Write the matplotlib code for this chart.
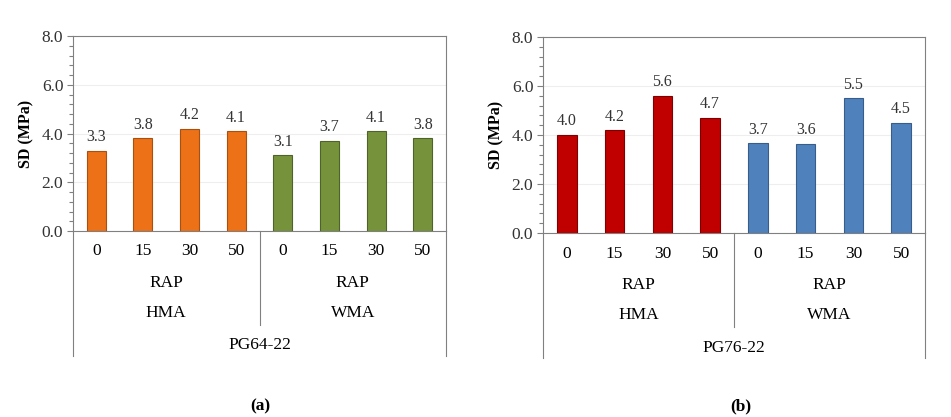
import matplotlib
matplotlib.use("Agg")
import matplotlib.pyplot as plt
from matplotlib.ticker import MultipleLocator

plt.rcParams['font.family'] = ['Liberation Serif', 'DejaVu Serif']

rap_levels = ['0', '15', '30', '50']
mix_types = ['HMA', 'WMA']
binders = ['PG64-22', 'PG76-22']
panel_tags = ['(a)', '(b)']

# SD values (MPa)
sd_pg64_hma = [3.3, 3.8, 4.2, 4.1]
sd_pg64_wma = [3.1, 3.7, 4.1, 3.8]
sd_pg76_hma = [4.0, 4.2, 5.6, 4.7]
sd_pg76_wma = [3.66, 3.64, 5.5, 4.5]

colors = {
    'PG64-22': (('#ED7117', '#A9500F'), ('#76933C', '#4F6228')),
    'PG76-22': (('#C00000', '#7F0000'), ('#4F81BD', '#385D8A')),
}

fig = plt.figure(figsize=(9.51, 4.17), dpi=100)
positions = [
    [73 / 951, 1 - 231 / 417, 373 / 951, 195 / 417],
    [543 / 951, 1 - 233 / 417, 382 / 951, 196 / 417],
]
tag_x = [260 / 951, 741 / 951]
data = [(sd_pg64_hma, sd_pg64_wma), (sd_pg76_hma, sd_pg76_wma)]

for k, binder in enumerate(binders):
    ax = fig.add_axes(positions[k])
    hma, wma = data[k]
    (c_h, e_h), (c_w, e_w) = colors[binder]
    x_h = list(range(4))
    x_w = list(range(4, 8))
    ax.bar(x_h, hma, width=0.41, color=c_h, edgecolor=e_h, linewidth=0.8, zorder=3)
    ax.bar(x_w, wma, width=0.41, color=c_w, edgecolor=e_w, linewidth=0.8, zorder=3)
    for xi, v in zip(x_h + x_w, hma + wma):
        ax.annotate('%.1f' % v, (xi, v), xytext=(0, 4), textcoords='offset points',
                    ha='center', va='bottom', fontsize=11.5, color='#333333')

    ax.set_xlim(-0.5, 7.5)
    ax.set_ylim(0, 8)
    ax.yaxis.set_major_locator(MultipleLocator(2))
    ax.yaxis.set_minor_locator(MultipleLocator(0.4))
    ax.yaxis.set_major_formatter(plt.FormatStrFormatter('%.1f'))
    ax.tick_params(axis='y', which='major', length=4, width=0.8, color='#808080',
                   labelsize=12.5, labelcolor='#333333', pad=3)
    ax.tick_params(axis='y', which='minor', length=3, width=0.8, color='#808080')
    ax.set_xticks([])
    ax.grid(axis='y', color='#EEEEEE', linewidth=0.8, zorder=0)
    for s in ax.spines.values():
        s.set_color('#808080')
        s.set_linewidth(0.8)
    ax.set_ylabel('SD (MPa)', fontweight='bold', fontsize=11.5, labelpad=5)

    # multi-level category axis below the plot
    tr = ax.get_xaxis_transform()
    for xi, lab in zip(x_h + x_w, rap_levels + rap_levels):
        ax.text(xi, -0.105, lab, transform=tr, ha='center', va='center', fontsize=12.5)
    for j, mt in enumerate(mix_types):
        xc = 1.5 + 4 * j
        ax.text(xc, -0.265, 'RAP', transform=tr, ha='center', va='center', fontsize=12.5)
        ax.text(xc, -0.42, mt, transform=tr, ha='center', va='center', fontsize=12.5)
    ax.text(3.5, -0.585, binder, transform=tr, ha='center', va='center', fontsize=12.5)
    ax.plot([-0.5, -0.5], [0, -0.64], transform=tr, color='#808080', lw=0.8, clip_on=False)
    ax.plot([7.5, 7.5], [0, -0.64], transform=tr, color='#808080', lw=0.8, clip_on=False)
    ax.plot([3.5, 3.5], [0, -0.48], transform=tr, color='#808080', lw=0.8, clip_on=False)

    fig.text(tag_x[k], 1 - 406 / 417, panel_tags[k], ha='center', va='center',
             fontsize=12.5, fontweight='bold')

fig.savefig('out.png', dpi=100)
